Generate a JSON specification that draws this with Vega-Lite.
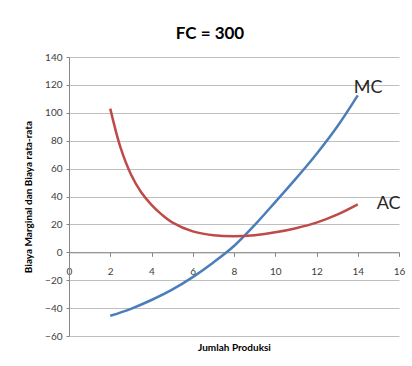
{
  "$schema": "https://vega.github.io/schema/vega-lite/v6.json",
  "width": 330,
  "height": 279,
  "autosize": {"type": "none"},
  "padding": {"left": 69, "top": 57, "right": 13, "bottom": 30},
  "background": "white",
  "config": {"font": "Lato", "view": {"stroke": null}},
  "title": {"text": "FC = 300", "fontSize": 17, "fontWeight": "bold", "color": "#000000", "anchor": "middle", "dx": -24, "offset": 9},
  "datasets": {
    "curves": [
      {"series": "MC", "q": 2, "v": -45.5},
      {"series": "MC", "q": 3, "v": -40.5},
      {"series": "MC", "q": 4, "v": -34.2},
      {"series": "MC", "q": 5, "v": -26.8},
      {"series": "MC", "q": 6, "v": -17.8},
      {"series": "MC", "q": 7, "v": -7.3},
      {"series": "MC", "q": 8, "v": 4.5},
      {"series": "MC", "q": 9, "v": 19.5},
      {"series": "MC", "q": 10, "v": 36},
      {"series": "MC", "q": 11, "v": 52.8},
      {"series": "MC", "q": 12, "v": 70.5},
      {"series": "MC", "q": 13, "v": 90},
      {"series": "MC", "q": 14, "v": 112.5},
      {"series": "AC", "q": 2, "v": 103},
      {"series": "AC", "q": 2.5, "v": 75},
      {"series": "AC", "q": 3, "v": 56},
      {"series": "AC", "q": 3.5, "v": 43},
      {"series": "AC", "q": 4, "v": 34},
      {"series": "AC", "q": 4.5, "v": 27},
      {"series": "AC", "q": 5, "v": 21.5},
      {"series": "AC", "q": 6, "v": 15},
      {"series": "AC", "q": 7, "v": 12.3},
      {"series": "AC", "q": 8, "v": 11.5},
      {"series": "AC", "q": 9, "v": 12.3},
      {"series": "AC", "q": 10, "v": 14.3},
      {"series": "AC", "q": 11, "v": 17.3},
      {"series": "AC", "q": 12, "v": 21.3},
      {"series": "AC", "q": 13, "v": 27},
      {"series": "AC", "q": 14, "v": 34.4}
    ]
  },
  "data": {"name": "curves"},
  "layer": [
    {
      "mark": {"type": "line", "interpolate": "catmull-rom", "strokeWidth": 2.5},
      "encoding": {
        "x": {
          "field": "q", "type": "quantitative",
          "scale": {"domain": [0, 16], "nice": false, "zero": false},
          "axis": {
            "title": "Jumlah Produksi", "titleFontSize": 10, "titleFontWeight": "bold", "titleColor": "#000000",
            "titleY": 95, "titleBaseline": "middle",
            "tickCount": 8,
            "offset": -83.7, "grid": false, "labelOverlap": false,
            "domainColor": "#868686", "tickColor": "#868686", "tickSize": 4,
            "labelFontSize": 10, "labelColor": "#404040", "labelPadding": 10, "labelFlush": false
          }
        },
        "y": {
          "field": "v", "type": "quantitative",
          "scale": {"domain": [-60, 140], "nice": false, "zero": false},
          "axis": {
            "title": "Biaya Marginal dan Biaya rata-rata", "titleFontSize": 10, "titleFontWeight": "bold", "titleColor": "#000000",
            "titleX": -36,
            "tickCount": 10,
            "labelOverlap": false,
            "gridColor": "#bfbfbf", "gridWidth": 1,
            "domainColor": "#868686", "tickColor": "#868686", "tickSize": 3,
            "labelFontSize": 10, "labelColor": "#404040", "labelPadding": 4
          }
        },
        "color": {
          "field": "series", "type": "nominal",
          "scale": {"domain": ["MC", "AC"], "range": ["#4a7ebb", "#be4b48"]},
          "legend": null
        }
      }
    },
    {
      "transform": [{"filter": "datum.series == 'MC' && datum.q == 14"}],
      "mark": {"type": "text", "align": "left", "baseline": "middle", "fontSize": 18, "color": "#262626", "dx": -4, "dy": -7},
      "encoding": {
        "x": {"field": "q", "type": "quantitative"},
        "y": {"field": "v", "type": "quantitative"},
        "text": {"field": "series"}
      }
    },
    {
      "transform": [{"filter": "datum.series == 'AC' && datum.q == 14"}],
      "mark": {"type": "text", "align": "left", "baseline": "middle", "fontSize": 18, "color": "#262626", "dx": 19, "dy": 0},
      "encoding": {
        "x": {"field": "q", "type": "quantitative"},
        "y": {"field": "v", "type": "quantitative"},
        "text": {"field": "series"}
      }
    }
  ]
}
